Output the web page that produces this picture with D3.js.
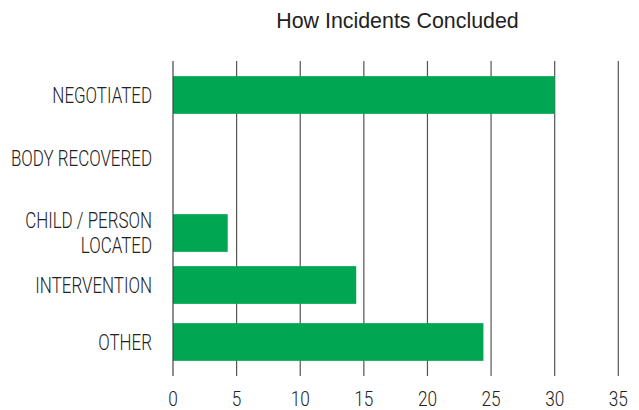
<!DOCTYPE html>
<html>
<head>
    <meta charset="utf-8" />
    <title>How Incidents Concluded</title>
    <script src="https://cdn.jsdelivr.net/npm/d3@7"></script>
    <style>
        body { margin: 0; background: #fff; }
        svg { display: block; }
    </style>
</head>
<body>
    <svg id="chart" width="639" height="410"></svg>
    <script>
        // data
        const categories = ['NEGOTIATED', 'BODY RECOVERED', 'CHILD / PERSON\nLOCATED', 'INTERVENTION', 'OTHER'];
        const values = [30, 0, 4.3, 14.4, 24.4];
        const ticks = [0, 5, 10, 15, 20, 25, 30, 35];

        const svg = d3.select('#chart');
        const labelFont = 'Roboto, "DejaVu Sans", sans-serif';

        const x = d3.scaleLinear().domain([0, 35]).range([173, 618.3]);
        // rows are not evenly spaced in the original
        const y = d3.scaleOrdinal().domain(categories).range([95, 158, 233, 285, 342]);
        const barH = 37.7;
        const gridTop = 61, gridBottom = 376;

        // title
        svg.append('text')
            .attr('x', 397.5)
            .attr('y', 28)
            .attr('text-anchor', 'middle')
            .style('font-family', '"Liberation Sans", Arial, sans-serif')
            .style('font-size', '21.4px')
            .style('fill', '#222')
            .text('How Incidents Concluded');

        // gridlines
        svg.append('g')
            .selectAll('line')
            .data(ticks.filter(d => d > 0))
            .enter().append('line')
            .attr('x1', d => x(d)).attr('x2', d => x(d))
            .attr('y1', gridTop).attr('y2', gridBottom)
            .style('stroke', '#555')
            .style('stroke-width', 1.2);

        // bars
        svg.append('g')
            .selectAll('rect')
            .data(categories.map((c, i) => ({ c, v: values[i] })).filter(d => d.v > 0))
            .enter().append('rect')
            .attr('x', x(0))
            .attr('y', d => y(d.c) - barH / 2)
            .attr('width', d => x(d.v) - x(0))
            .attr('height', barH)
            .style('fill', '#00a651');

        // zero line on top
        svg.append('line')
            .attr('x1', x(0)).attr('x2', x(0))
            .attr('y1', gridTop).attr('y2', gridBottom)
            .style('stroke', '#444')
            .style('stroke-width', 1.2);

        // category labels (condensed look via scaleX)
        const sx = 0.77;
        const labels = svg.append('g')
            .attr('transform', `translate(152,0) scale(${sx},1)`);
        categories.forEach(c => {
            const lines = c.split('\n');
            const t = labels.append('text')
                .attr('text-anchor', 'end')
                .style('font-family', labelFont)
                .style('font-weight', 300)
                .style('font-size', '22px')
                .style('fill', '#222');
            const lh = 25;
            const y0 = y(c) - (lines.length - 1) * lh / 2 + 8;
            lines.forEach((l, i) => {
                t.append('tspan').attr('x', 0).attr('y', y0 + i * lh).text(l);
            });
        });

        // x tick labels
        svg.append('g')
            .selectAll('text')
            .data(ticks)
            .enter().append('text')
            .attr('transform', d => `translate(${x(d)},406) scale(0.82,1)`)
            .attr('text-anchor', 'middle')
            .style('font-family', labelFont)
            .style('font-weight', 300)
            .style('font-size', '21px')
            .style('fill', '#222')
            .text(d => d);
    </script>
</body>
</html>
